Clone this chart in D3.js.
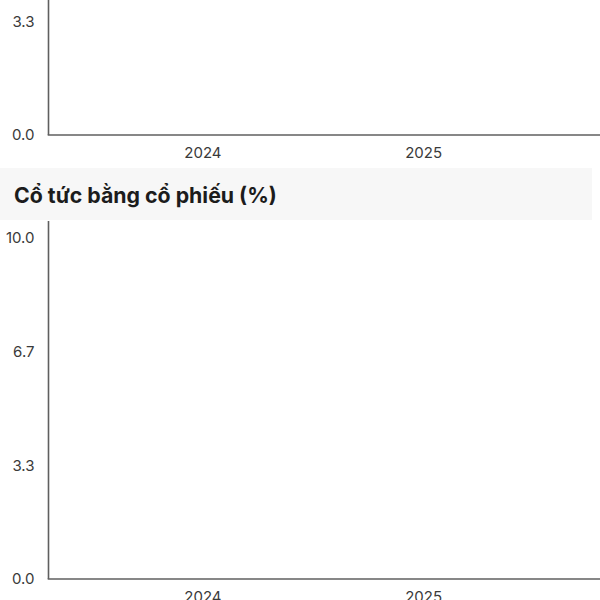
<!DOCTYPE html>
<html>
<head>
<meta charset="utf-8">
<script src="https://cdn.jsdelivr.net/npm/d3@7"></script>
<style>
  html, body { margin: 0; padding: 0; background: #ffffff; }
  svg { display: block; font-family: Inter, "Noto Sans", sans-serif; }
</style>
</head>
<body>
<svg id="chart" width="600" height="600"></svg>
<script>
// ---- data ----
const years = ["2024", "2025"];
const cashDividend = [0, 0];      // upper chart (title scrolled out of view)
const stockDividend = [0, 0];     // "Cổ tức bằng cổ phiếu (%)"
const yTickValues = [0, 10 / 3, 20 / 3, 10];
const yDomain = [0, 10];
const sectionTitle = "Cổ tức bằng cổ phiếu (%)";

const W = 600, H = 600;
const svg = d3.select("#chart");
const left = 48.5;

function drawChart(g, values, baseY, topY, lineTop) {
  const x = d3.scaleBand().domain(years).range([left, 578]).paddingOuter(0.2).paddingInner(0);
  const y = d3.scaleLinear().domain(yDomain).range([baseY, topY]);

  // bars (zero-valued)
  g.selectAll("rect.bar").data(values).join("rect")
    .attr("class", "bar")
    .attr("x", (d, i) => x(years[i]) + x.bandwidth() * 0.3)
    .attr("width", x.bandwidth() * 0.4)
    .attr("y", d => y(d))
    .attr("height", d => y(0) - y(d))
    .attr("fill", "#2e7d32");

  // y axis (only ticks that are inside the visible window)
  const visibleTicks = yTickValues.filter(v => y(v) > 8 && y(v) < H);
  const yAxis = d3.axisLeft(y).tickValues(visibleTicks).tickFormat(d3.format(".1f")).tickSize(0).tickPadding(14);
  const ya = g.append("g").attr("transform", `translate(${left},0)`).call(yAxis);
  ya.select(".domain").remove();
  ya.selectAll("text").attr("font-size", 15).attr("fill", "#3a3a3a").attr("font-family", "Inter, sans-serif");
  g.append("line").attr("x1", left).attr("x2", left).attr("y1", y(0)).attr("y2", Math.max(lineTop, 0))
    .attr("stroke", "#5f5f5f").attr("stroke-width", 1.6);

  // x axis
  const xAxis = d3.axisBottom(x).tickSize(0).tickPadding(12);
  const xa = g.append("g").attr("transform", `translate(0,${y(0)})`).call(xAxis);
  xa.select(".domain").remove();
  xa.selectAll("text").attr("font-size", 15).attr("fill", "#3a3a3a").attr("font-family", "Inter, sans-serif");
  g.append("line").attr("x1", left - 0.8).attr("x2", W).attr("y1", y(0)).attr("y2", y(0))
    .attr("stroke", "#5f5f5f").attr("stroke-width", 1.6);
}

// upper chart (scrolled, only bottom visible)
drawChart(svg.append("g"), cashDividend, 135, 135 - 341, -250);

// section header band
svg.append("rect").attr("x", 0).attr("y", 168).attr("width", 592).attr("height", 52).attr("fill", "#f7f7f7");
svg.append("text").attr("x", 14).attr("y", 203)
  .attr("font-size", 21.3).attr("font-weight", 700).attr("fill", "#1c1c1c")
  .attr("font-family", "Inter, sans-serif")
  .text(sectionTitle);

// lower chart
drawChart(svg.append("g"), stockDividend, 579, 238, 221);
</script>
</body>
</html>
